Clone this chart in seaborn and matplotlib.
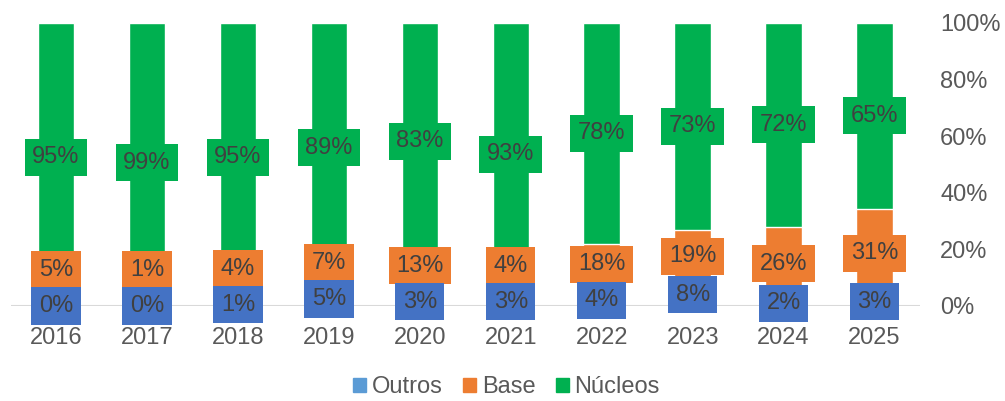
import seaborn as sns
import matplotlib.pyplot as plt
import pandas as pd
import numpy as np
from matplotlib.patches import Patch

# chart data (percent, as labelled)
years = ["2016", "2017", "2018", "2019", "2020", "2021", "2022", "2023", "2024", "2025"]
outros = [0, 0, 1, 5, 3, 3, 4, 8, 2, 3]
base = [5, 1, 4, 7, 13, 4, 18, 19, 26, 31]
nucleos = [95, 99, 95, 89, 83, 93, 78, 73, 72, 65]
series_names = ["Outros", "Base", "Núcleos"]

c_outros = "#4472C4"
c_outros_legend = "#5B9BD5"
c_base = "#ED7D31"
c_nucleos = "#00B050"
label_color = "#404040"
tick_color = "#595959"

df = pd.DataFrame({"year": years, "Outros": outros, "Base": base, "Núcleos": nucleos})
total = df[series_names].sum(axis=1)
# 100% stacked -> normalise each column
df["cum_outros"] = df["Outros"] / total * 100
df["cum_base"] = (df["Outros"] + df["Base"]) / total * 100
df["cum_all"] = 100.0

sns.set_style("white")
plt.rcParams["font.family"] = ["Liberation Sans", "DejaVu Sans"]

fig = plt.figure(figsize=(10.05, 4.01), dpi=100)
ax = fig.add_axes([10.5 / 1005, 95 / 401, (920 - 10.5) / 1005, (306 - 22.7) / 401])

ax.axhline(0, color="#D9D9D9", lw=1.5, zorder=0)

# draw back to front so the stacks show
sns.barplot(data=df, x="year", y="cum_all", color=c_nucleos, saturation=1, width=0.4, ax=ax)
sns.barplot(data=df, x="year", y="cum_base", color=c_base, saturation=1, width=0.4, ax=ax)
sns.barplot(data=df, x="year", y="cum_outros", color=c_outros, saturation=1, width=0.4, ax=ax)

box_h = 12.7  # label box height in data units, used to keep labels apart
fs = 17
for i, row in df.iterrows():
    y_out = row["cum_outros"] / 2
    y_base = max((row["cum_outros"] + row["cum_base"]) / 2, y_out + box_h)
    y_nuc = (row["cum_base"] + 100) / 2
    for y, val, col in [(y_nuc, row["Núcleos"], c_nucleos),
                        (y_base, row["Base"], c_base),
                        (y_out, row["Outros"], c_outros)]:
        ax.text(i, y, f"{val}%", ha="center", va="center", fontsize=fs, color=label_color,
                bbox=dict(boxstyle="square,pad=0.32", fc=col, ec="none"), zorder=4)

ax.set_xlim(-0.5, len(years) - 0.5)
ax.set_ylim(0, 100)
ax.yaxis.tick_right()
ax.set_yticks(np.arange(0, 101, 20))
ax.set_yticklabels([f"{v}%" for v in range(0, 101, 20)])
ax.tick_params(axis="y", length=0, pad=14.4, labelsize=fs, labelcolor=tick_color)
ax.tick_params(axis="x", length=0, pad=15, labelsize=fs, labelcolor=tick_color)
ax.set_xlabel("")
ax.set_ylabel("")
sns.despine(ax=ax, left=True, bottom=True, right=True, top=True)

handles = [Patch(color=c) for c in [c_outros_legend, c_base, c_nucleos]]
fig.legend(handles, series_names, loc="center", bbox_to_anchor=(0.504, 0.034), ncol=3,
           frameon=False, fontsize=fs, labelcolor=tick_color, handlelength=0.55, handleheight=0.55,
           handletextpad=0.25, columnspacing=0.85)

fig.savefig("out.png", dpi=100)
